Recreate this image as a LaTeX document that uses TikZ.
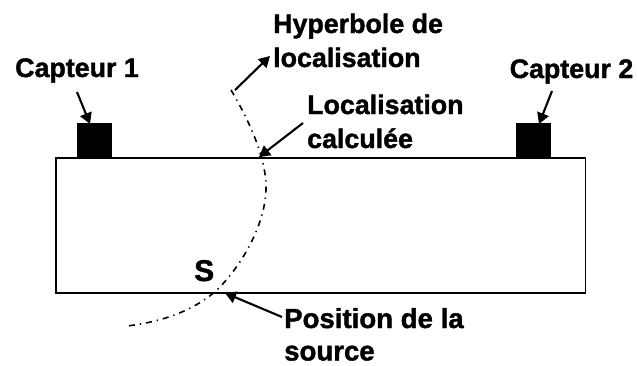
\documentclass[tikz,border=0pt]{standalone}
\usepackage{fontspec}
\setmainfont{Liberation Sans}[BoldFeatures={FakeBold=1.4}]
\usetikzlibrary{arrows.meta}
\begin{document}
\begin{tikzpicture}[x=1pt,y=-1pt,
  lab/.style={anchor=base west,inner sep=0pt,font=\fontsize{26.8}{32}\selectfont\bfseries},
  arr/.style={line width=2.1pt,-{Triangle[length=11pt,width=12pt]}},
  sensor/.style={fill=black,draw=none,minimum width=35pt,minimum height=34pt,inner sep=0pt,anchor=south west}]
\useasboundingbox (0,0) rectangle (637,365);
\node[draw=black,line width=1.7pt,minimum width=529.5pt,minimum height=135pt,inner sep=0pt,anchor=north west] (block) at (55,157) {};
\node[sensor] (s1) at (77,157) {};
\node[sensor] (s2) at (516,157) {};
\node[lab] (c1) at (15,77) {Capteur 1};
\node[lab] (c2) at (509.5,78) {Capteur 2};
\node[lab] (hyp) at (273,33) {Hyperbole de};
\node[lab] (hyp2) at (273,67) {localisation};
\node[lab] (loc) at (307,114) {Localisation};
\node[lab] (loc2) at (307,148) {calculée};
\node[lab,font=\fontsize{30}{32}\selectfont\bfseries] (S) at (194,281) {S};
\node[lab,font=\fontsize{27.6}{32}\selectfont\bfseries] (pos) at (284,328) {Position de la};
\node[lab,font=\fontsize{27.6}{32}\selectfont\bfseries] (pos2) at (284,360.5) {source};
\coordinate (a1) at (77,92);
\coordinate (a1e) at (90,124);
\coordinate (a2) at (552,91);
\coordinate (a2e) at (539,124);
\coordinate (h1) at (235,90);
\coordinate (h1e) at (270,56);
\coordinate (l1) at (303,123);
\coordinate (l1e) at (259,157);
\coordinate (p1) at (282,317);
\coordinate (p1e) at (225,293);
\coordinate (hs) at (231,90);
\coordinate (he) at (127,326);
\draw[arr] (a1) -- (a1e);
\draw[arr] (a2) -- (a2e);
\draw[arr] (h1) -- (h1e);
\draw[arr] (l1) -- (l1e);
\draw[arr] (p1) -- (p1e);
\draw[line width=1.6pt,dash pattern=on 6pt off 5pt on 1.3pt off 5pt]
  (hs) .. controls (250,122) and (267,160) .. (266,190)
  .. controls (265,222) and (245,262) .. (217,290)
  .. controls (192,312) and (160,322) .. (he);
\end{tikzpicture}
\end{document}
